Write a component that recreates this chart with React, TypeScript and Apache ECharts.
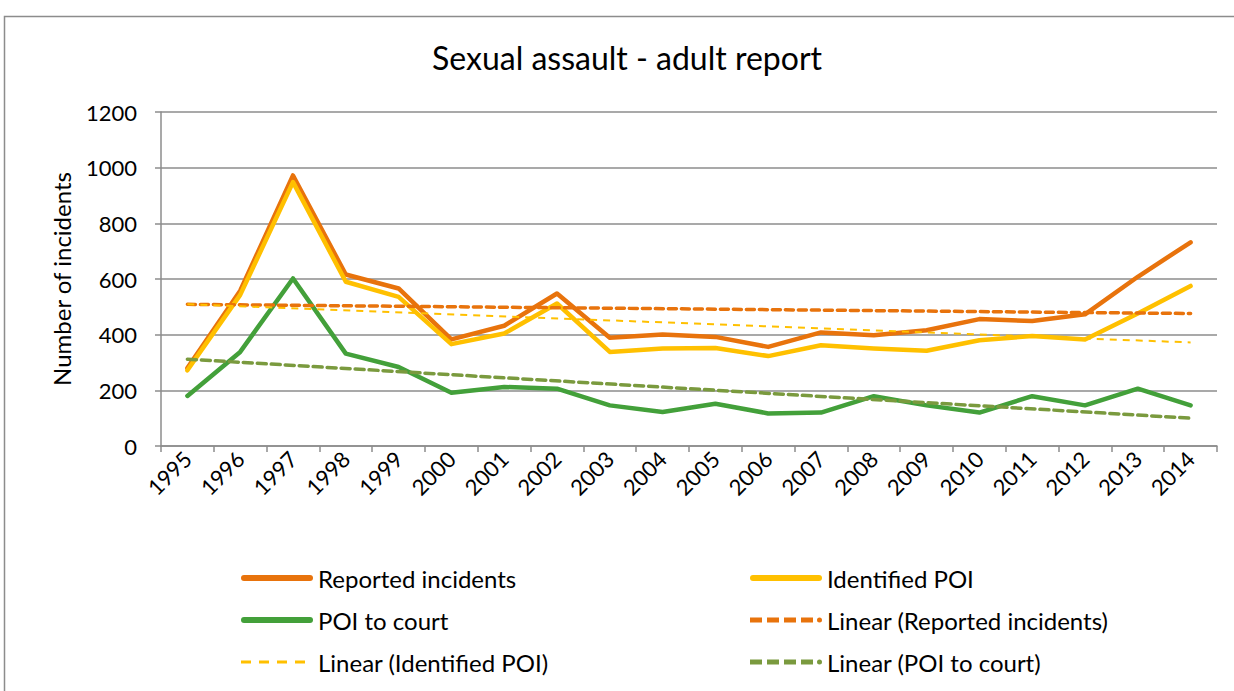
import React, { useEffect, useRef } from "react";
import * as echarts from "echarts";

const years = ["1995","1996","1997","1998","1999","2000","2001","2002","2003","2004","2005","2006","2007","2008","2009","2010","2011","2012","2013","2014"];
const reported = [280, 558, 972, 616, 566, 383, 432, 548, 389, 401, 392, 356, 408, 398, 416, 456, 449, 473, 608, 732];
const identified = [272, 543, 948, 590, 536, 366, 404, 512, 338, 350, 352, 323, 362, 350, 342, 380, 395, 383, 476, 575];
const poiCourt = [180, 338, 602, 332, 284, 191, 212, 206, 146, 122, 152, 117, 120, 179, 146, 120, 179, 146, 206, 146];
// Trend line endpoints (first and last year)
const trendReported = [509, 476];
const trendIdentified = [509, 372];
const trendCourt = [312, 100];

const endpoints = (pair: number[]) => years.map((_, i) => (i === 0 ? pair[0] : i === years.length - 1 ? pair[1] : null));

const FONT = "Lato";

const ICON_SOLID = "path://M3,0H69A3,3 0 0 1 69,6H3A3,3 0 0 1 3,0Z";
const ICON_DASH_DOT =
  "path://M0,0.5H12V5.5H0Z M17,0.5H29V5.5H17Z M34,0.5H46V5.5H34Z M51,0.5H63V5.5H51Z M67,3A2.5,2.5 0 1 0 72,3A2.5,2.5 0 1 0 67,3Z M0,0H0.01V6H0Z";
const ICON_DASH_THIN =
  "path://M0,1.6H10V4.4H0Z M18,1.6H28V4.4H18Z M36,1.6H46V4.4H36Z M54,1.6H64V4.4H54Z M0,0H0.01V0.01H0Z M71.99,5.99H72V6H71.99Z";

export default function App() {
  const ref = useRef<HTMLDivElement>(null);
  useEffect(() => {
    const chart = echarts.init(ref.current!, undefined, { renderer: "svg" });
    const orange = "#E8730C";
    const yellow = "#FFC000";
    const green = "#43A03A";
    const olive = "#7A9A3E";
    const legendText = { fontFamily: FONT, fontSize: 24, color: "#000", lineHeight: 24 };
    chart.setOption({
      animation: false,
      backgroundColor: "#fff",
      textStyle: { fontFamily: FONT, color: "#000" },
      title: {
        text: "Sexual assault - adult report",
        left: 427,
        top: 36,
        textStyle: { fontFamily: FONT, fontSize: 32, fontWeight: "normal", color: "#000" },
      },
      graphic: [
        { type: "rect", shape: { x: 4.5, y: 16.5, width: 1260, height: 700 }, style: { fill: "none", stroke: "#8c8c8c", lineWidth: 1.5 }, silent: true },
      ],
      grid: { left: 161, right: 17, top: 112, bottom: 245, containLabel: false },
      legend: [
        {
          orient: "vertical",
          left: 236,
          top: 561,
          itemWidth: 72,
          itemHeight: 6,
          itemGap: 18,
          textStyle: legendText,
          data: [
            { name: "Reported incidents", icon: ICON_SOLID },
            { name: "POI to court", icon: ICON_SOLID },
            { name: "Linear (Identified POI)", icon: ICON_DASH_THIN },
          ],
        },
        {
          orient: "vertical",
          left: 745,
          top: 561,
          itemWidth: 72,
          itemHeight: 6,
          itemGap: 18,
          textStyle: legendText,
          data: [
            { name: "Identified POI", icon: ICON_SOLID },
            { name: "Linear (Reported incidents)", icon: ICON_DASH_DOT },
            { name: "Linear (POI to court)", icon: ICON_DASH_DOT },
          ],
        },
      ],
      xAxis: {
        type: "category",
        data: years,
        boundaryGap: true,
        axisLine: { lineStyle: { color: "#8c8c8c", width: 1.5 } },
        axisTick: { show: true, length: 6, lineStyle: { color: "#8c8c8c", width: 1.5 } },
        axisLabel: { rotate: 45, fontFamily: FONT, fontSize: 22, color: "#000", margin: 9, interval: 0 },
      },
      yAxis: {
        type: "value",
        min: 0,
        max: 1200,
        interval: 200,
        name: "Number of incidents",
        nameLocation: "middle",
        nameGap: 88,
        nameTextStyle: { fontFamily: FONT, fontSize: 24, color: "#000" },
        axisLine: { show: true, lineStyle: { color: "#8c8c8c", width: 1.5 } },
        axisTick: { show: true, length: 6, lineStyle: { color: "#8c8c8c", width: 1.5 } },
        axisLabel: { fontFamily: FONT, fontSize: 22, color: "#000", margin: 24, formatter: (v: number) => String(v) },
        splitLine: { lineStyle: { color: "#8c8c8c", width: 1.5 } },
      },
      series: [
        { name: "Reported incidents", type: "line", data: reported, showSymbol: false, symbol: "none", color: orange, lineStyle: { width: 4.5, color: orange, cap: "round", join: "round" }, z: 2 },
        { name: "Identified POI", type: "line", data: identified, showSymbol: false, symbol: "none", color: yellow, lineStyle: { width: 4.5, color: yellow, cap: "round", join: "round" }, z: 3 },
        { name: "POI to court", type: "line", data: poiCourt, showSymbol: false, symbol: "none", color: green, lineStyle: { width: 4.5, color: green, cap: "round", join: "round" }, z: 4 },
        { name: "Linear (Reported incidents)", type: "line", data: endpoints(trendReported), connectNulls: true, showSymbol: false, symbol: "none", color: orange, lineStyle: { width: 3.5, color: orange, type: [8, 5], cap: "round" }, z: 5 },
        { name: "Linear (Identified POI)", type: "line", data: endpoints(trendIdentified), connectNulls: true, showSymbol: false, symbol: "none", color: yellow, lineStyle: { width: 2, color: yellow, type: [7, 6] }, z: 5 },
        { name: "Linear (POI to court)", type: "line", data: endpoints(trendCourt), connectNulls: true, showSymbol: false, symbol: "none", color: olive, lineStyle: { width: 3.5, color: olive, type: [9, 5], cap: "round" }, z: 5 },
      ],
    });
    return () => chart.dispose();
  }, []);
  return <div ref={ref} style={{ position: "fixed", left: 0, top: 0, width: 1234, height: 691 }} />;
}
